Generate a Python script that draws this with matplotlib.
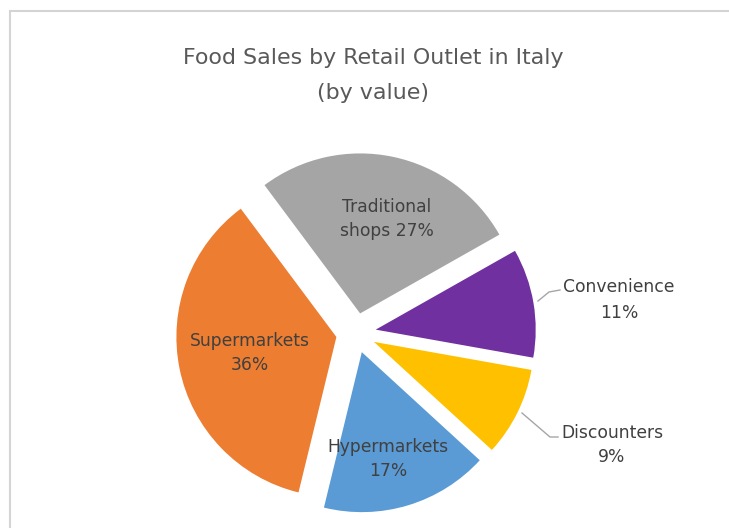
import matplotlib.pyplot as plt
from matplotlib.patches import Rectangle

# data, clockwise from the top
outlets = ['Traditional\nshops', 'Convenience', 'Discounters', 'Hypermarkets', 'Supermarkets']
shares = [27, 11, 9, 17, 36]
colors = ['#a5a5a5', '#7030a0', '#ffc000', '#5b9bd5', '#ed7d31']

W, H = 729, 528
fig = plt.figure(figsize=(W / 100, H / 100), dpi=100)
fig.patch.set_facecolor('white')

# light chart frame, top and left edges visible
fig.patches.append(Rectangle((10 / W, -0.1), 1.2, (H - 11) / H + 0.1,
                             transform=fig.transFigure, fill=False,
                             edgecolor='#d4d4d4', linewidth=1.5))

ax = fig.add_axes([0, 0, 1, 1])
R = 160.0
cx, cy = 356, 333

wedges, _ = ax.pie(shares, colors=colors, startangle=126.7, counterclock=False,
                   explode=[0.125] * len(shares),
                   wedgeprops=dict(linewidth=0))

ax.set_xlim(-cx / R, (W - cx) / R)
ax.set_ylim(-(H - cy) / R, cy / R)
ax.set_aspect('equal')
ax.axis('off')


def px(x, y):
    # picture pixel -> data coords
    return (x - cx) / R, (cy - y) / R


font = 'DejaVu Sans'
txt = '#404040'
fs = 12.3

# inside labels
inside = {0: (387, 219), 4: (250, 353), 3: (388, 459)}
for i, (x, y) in inside.items():
    name = outlets[i]
    if i == 0:
        s = name + ' %d%%' % shares[i]
    else:
        s = name + '\n%d%%' % shares[i]
    ax.text(*px(x, y), s, ha='center', va='center', fontsize=fs,
            color=txt, family=font, linespacing=1.5)

# outside labels with leader lines
outside = {1: ([538, 549, 560], [301, 292, 290], (619, 300)),
           2: ([522, 550, 558], [413, 437, 437], (612, 445))}
for i, (lx, ly, pt) in outside.items():
    pts = [px(a, b) for a, b in zip(lx, ly)]
    ax.plot([p[0] for p in pts], [p[1] for p in pts], color='#a6a6a6', linewidth=1)
    ax.text(*px(*pt), outlets[i] + '\n%d%%' % shares[i], ha='center', va='center',
            fontsize=fs, color=txt, family=font, linespacing=1.5)

fig.text(373 / W, 1 - 58 / H, 'Food Sales by Retail Outlet in Italy',
         ha='center', va='center', fontsize=15.9, color='#595959', family=font)
fig.text(373 / W, 1 - 93 / H, '(by value)',
         ha='center', va='center', fontsize=15.9, color='#595959', family=font)

fig.savefig('out.png', dpi=100, facecolor='white')
